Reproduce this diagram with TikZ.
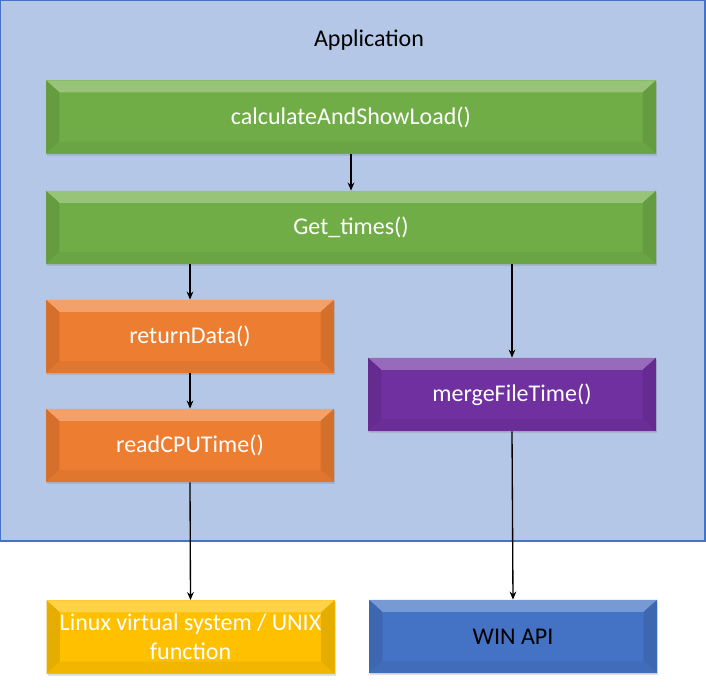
\documentclass[tikz,border=0pt]{standalone}
\usepackage{fontspec}
\setmainfont{Carlito}
\usetikzlibrary{arrows.meta,shadows}
\definecolor{appfill}{HTML}{B4C7E7}
\definecolor{appline}{HTML}{4472C4}
\definecolor{fngreen}{HTML}{70AD47}
\definecolor{fnorange}{HTML}{ED7D31}
\definecolor{fnpurple}{HTML}{7030A0}
\definecolor{fnyellow}{HTML}{FFC000}
\definecolor{fnblue}{HTML}{4472C4}
\tikzset{
  fnbox/.style={fill=#1,text=white,inner sep=2pt,align=center,
    font=\fontsize{18}{22}\selectfont,
    drop shadow={opacity=0.25,shadow xshift=1pt,shadow yshift=-1.5pt},
    path picture={
      \fill[#1!72!white] (path picture bounding box.north west) -- (path picture bounding box.north east)
        -- ([xshift=-10pt,yshift=-9pt]path picture bounding box.north east)
        -- ([xshift=10pt,yshift=-9pt]path picture bounding box.north west) -- cycle;
      \fill[#1!90!black] (path picture bounding box.north west) -- ([xshift=10pt,yshift=-9pt]path picture bounding box.north west)
        -- ([xshift=10pt,yshift=9pt]path picture bounding box.south west) -- (path picture bounding box.south west) -- cycle;
      \fill[#1!90!black] (path picture bounding box.north east) -- ([xshift=-10pt,yshift=-9pt]path picture bounding box.north east)
        -- ([xshift=-10pt,yshift=9pt]path picture bounding box.south east) -- (path picture bounding box.south east) -- cycle;
      \fill[#1!95!black] (path picture bounding box.south west) -- ([xshift=10pt,yshift=9pt]path picture bounding box.south west)
        -- ([xshift=-10pt,yshift=9pt]path picture bounding box.south east) -- (path picture bounding box.south east) -- cycle;
    }},
  widebox/.style={minimum width=457.5pt,minimum height=55pt},
  halfbox/.style={minimum width=216pt,minimum height=55pt},
  flow/.style={-{Stealth[length=6pt,width=5pt]},line width=1pt,black}
}

\begin{document}
\begin{tikzpicture}[x=0.75pt,y=-0.75pt]
\useasboundingbox (0,0) rectangle (706,693);
\draw[fill=appfill,draw=appline,line width=0.8pt] (0.5,0.5) rectangle (705,541);
\node[font=\fontsize{18}{22}\selectfont] (app) at (369,40) {Application};

\node[fnbox=fngreen,widebox] (calc) at (351,117) {calculateAndShowLoad()};
\node[fnbox=fngreen,widebox] (times) at (351,227.5) {Get\_times()};
\node[fnbox=fnorange,halfbox] (retdata) at (190,336.5) {returnData()};
\node[fnbox=fnorange,halfbox] (readcpu) at (190,445.5) {readCPUTime()};
\node[fnbox=fnpurple,halfbox] (merge) at (512,394.5) {mergeFileTime()};
\node[fnbox=fnyellow,halfbox] (linux) at (190.5,637) {Linux virtual system / UNIX\\function};
\node[fnbox=fnblue,halfbox,text=black] (winapi) at (513,636.5) {WIN API};

\draw[flow] (calc.south) -- (times.north);
\draw[flow] (retdata.north |- times.south) -- (retdata.north);
\draw[flow] (merge.north |- times.south) -- (merge.north);
\draw[flow] (retdata.south) -- (readcpu.north);
\draw[flow] (readcpu.south) -- (linux.north);
\draw[flow] (merge.south) -- (winapi.north);
\end{tikzpicture}
\end{document}
